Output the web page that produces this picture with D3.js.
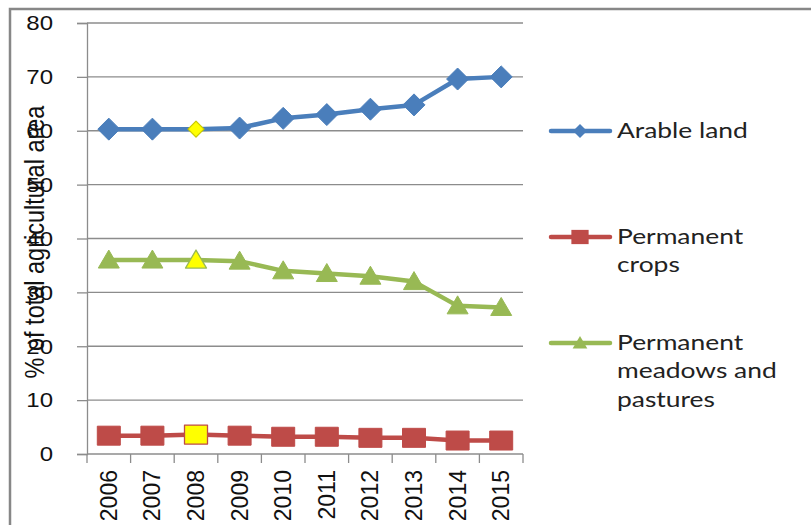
<!DOCTYPE html>
<html>
<head>
<meta charset="utf-8">
<script src="https://cdn.jsdelivr.net/npm/d3@7"></script>
<style>
  html, body { margin: 0; padding: 0; background: #fff; }
  svg { display: block; }
</style>
</head>
<body>
<svg id="chart" width="811" height="525"></svg>
<script>
// Land use shares, % of total agricultural area
const years = ["2006", "2007", "2008", "2009", "2010", "2011", "2012", "2013", "2014", "2015"];
const arableLand = [60.3, 60.3, 60.3, 60.5, 62.3, 63.0, 64.0, 64.8, 69.6, 70.0];
const permanentCrops = [3.4, 3.4, 3.6, 3.4, 3.2, 3.2, 3.0, 3.0, 2.5, 2.5];
const meadowsPastures = [36.0, 36.0, 36.0, 35.8, 34.0, 33.5, 33.0, 32.0, 27.5, 27.2];
const yTicks = [0, 10, 20, 30, 40, 50, 60, 70, 80];
const highlightYear = "2008";

const seriesList = [
  { name: ["Arable land"], values: arableLand, color: "#4a7ebb", marker: "diamond" },
  { name: ["Permanent", "crops"], values: permanentCrops, color: "#be4b48", marker: "square" },
  { name: ["Permanent", "meadows and", "pastures"], values: meadowsPastures, color: "#98b954", marker: "triangle" }
];

const svg = d3.select("#chart");

const plot = { left: 87, right: 523, top: 23, bottom: 454 };

const x = d3.scaleBand().domain(years).range([plot.left, plot.right]).paddingInner(0).paddingOuter(0);
const y = d3.scaleLinear().domain([0, 80]).range([plot.bottom, plot.top]);
const cx = d => x(d) + x.bandwidth() / 2;

// outer chart frame
svg.append("path")
  .attr("d", "M10,525 L10,9 L811,9")
  .attr("fill", "none")
  .attr("stroke", "#878787")
  .attr("stroke-width", 2.5);

// horizontal gridlines
svg.append("g")
  .selectAll("line")
  .data(yTicks.filter(t => t > 0))
  .join("line")
  .attr("x1", plot.left)
  .attr("x2", plot.right)
  .attr("y1", d => y(d))
  .attr("y2", d => y(d))
  .attr("stroke", "#8c8c8c")
  .attr("stroke-width", 1.3);

// y axis
const yAxis = d3.axisLeft(y).tickValues(yTicks).tickSize(10).tickPadding(0).tickFormat(d3.format("d"));
const gy = svg.append("g").attr("transform", `translate(${plot.left},0)`).call(yAxis);
gy.select(".domain").attr("stroke", "#8c8c8c").attr("stroke-width", 1.3);
gy.selectAll(".tick line").attr("stroke", "#8c8c8c").attr("stroke-width", 1.3);
gy.selectAll(".tick text")
  .attr("x", null)
  .attr("dy", null)
  .attr("text-anchor", "end")
  .attr("dominant-baseline", "central")
  .attr("transform", "translate(-34,0) scale(1.2,1)")
  .attr("font-family", "Liberation Sans, Arial, sans-serif")
  .attr("font-size", 20)
  .attr("fill", "#111");

// x axis: ticks sit between categories
const gx = svg.append("g");
gx.append("line")
  .attr("x1", plot.left).attr("x2", plot.right)
  .attr("y1", plot.bottom).attr("y2", plot.bottom)
  .attr("stroke", "#8c8c8c").attr("stroke-width", 1.3);
gx.selectAll("line.tick")
  .data(years.concat(["end"]))
  .join("line")
  .attr("class", "tick")
  .attr("x1", (d, i) => plot.left + i * x.step())
  .attr("x2", (d, i) => plot.left + i * x.step())
  .attr("y1", plot.bottom)
  .attr("y2", plot.bottom + 9)
  .attr("stroke", "#8c8c8c").attr("stroke-width", 1.3);
gx.selectAll("text")
  .data(years)
  .join("text")
  .attr("transform", d => `translate(${cx(d)},${plot.bottom + 16}) rotate(-90)`)
  .attr("text-anchor", "end")
  .attr("dominant-baseline", "central")
  .attr("font-family", "Liberation Sans, Arial, sans-serif")
  .attr("font-size", 23)
  .attr("fill", "#111")
  .text(d => d);

// y axis title
svg.append("text")
  .attr("transform", `translate(34,242) scale(1.2,1) rotate(-90)`)
  .attr("text-anchor", "middle")
  .attr("dominant-baseline", "central")
  .attr("font-family", "Liberation Sans, Arial, sans-serif")
  .attr("font-size", 23.5)
  .attr("fill", "#111")
  .text("% of total agricultural area");

// marker shapes
function markerPath(kind, s) {
  if (kind === "diamond") return `M0,${-s} L${s},0 L0,${s} L${-s},0 Z`;
  if (kind === "square") {
    const w = s * 1.15, h = s * 0.95;
    return `M${-w},${-h} H${w} V${h} H${-w} Z`;
  }
  return `M0,${-s} L${s * 1.05},${s * 0.8} L${-s * 1.05},${s * 0.8} Z`;
}

const line = d3.line().x(d => cx(d.year)).y(d => y(d.value));

seriesList.forEach(s => {
  const pts = years.map((yr, i) => ({ year: yr, value: s.values[i] }));
  const g = svg.append("g");
  g.append("path")
    .datum(pts)
    .attr("d", line)
    .attr("fill", "none")
    .attr("stroke", s.color)
    .attr("stroke-width", 4.5)
    .attr("stroke-linejoin", "round");
  g.selectAll("path.pt")
    .data(pts)
    .join("path")
    .attr("class", "pt")
    .attr("transform", d => `translate(${cx(d.year)},${y(d.value)})`)
    .attr("d", d => {
      const hi = d.year === highlightYear;
      const size = s.marker === "diamond" ? (hi ? 8 : 11) : 10;
      return markerPath(s.marker, size);
    })
    .attr("fill", d => d.year === highlightYear ? "#ffff00" : s.color)
    .attr("stroke", d => d.year === highlightYear ? (s.marker === "diamond" ? "#c8c800" : s.color) : s.color)
    .attr("stroke-width", d => d.year === highlightYear ? 1.3 : 1)
    .attr("stroke-linejoin", "round");
});

// legend
const legendRows = [131, 237, 343];
const legend = svg.append("g");
seriesList.forEach((s, i) => {
  const ly = legendRows[i];
  legend.append("line")
    .attr("x1", 551).attr("x2", 610)
    .attr("y1", ly).attr("y2", ly)
    .attr("stroke", s.color).attr("stroke-width", 4.5).attr("stroke-linecap", "round");
  legend.append("path")
    .attr("transform", `translate(580,${ly})`)
    .attr("d", markerPath(s.marker, s.marker === "square" ? 7.5 : 7))
    .attr("fill", s.color);
  const t = legend.append("text")
    .attr("transform", `translate(617,${ly + 7}) scale(1.2,1)`)
    .attr("font-family", "Lato, Open Sans, sans-serif")
    .attr("font-size", 22)
    .attr("fill", "#222");
  s.name.forEach((ln, j) => {
    t.append("tspan").attr("x", 0).attr("dy", j === 0 ? 0 : 28.5).text(ln);
  });
});
</script>
</body>
</html>
